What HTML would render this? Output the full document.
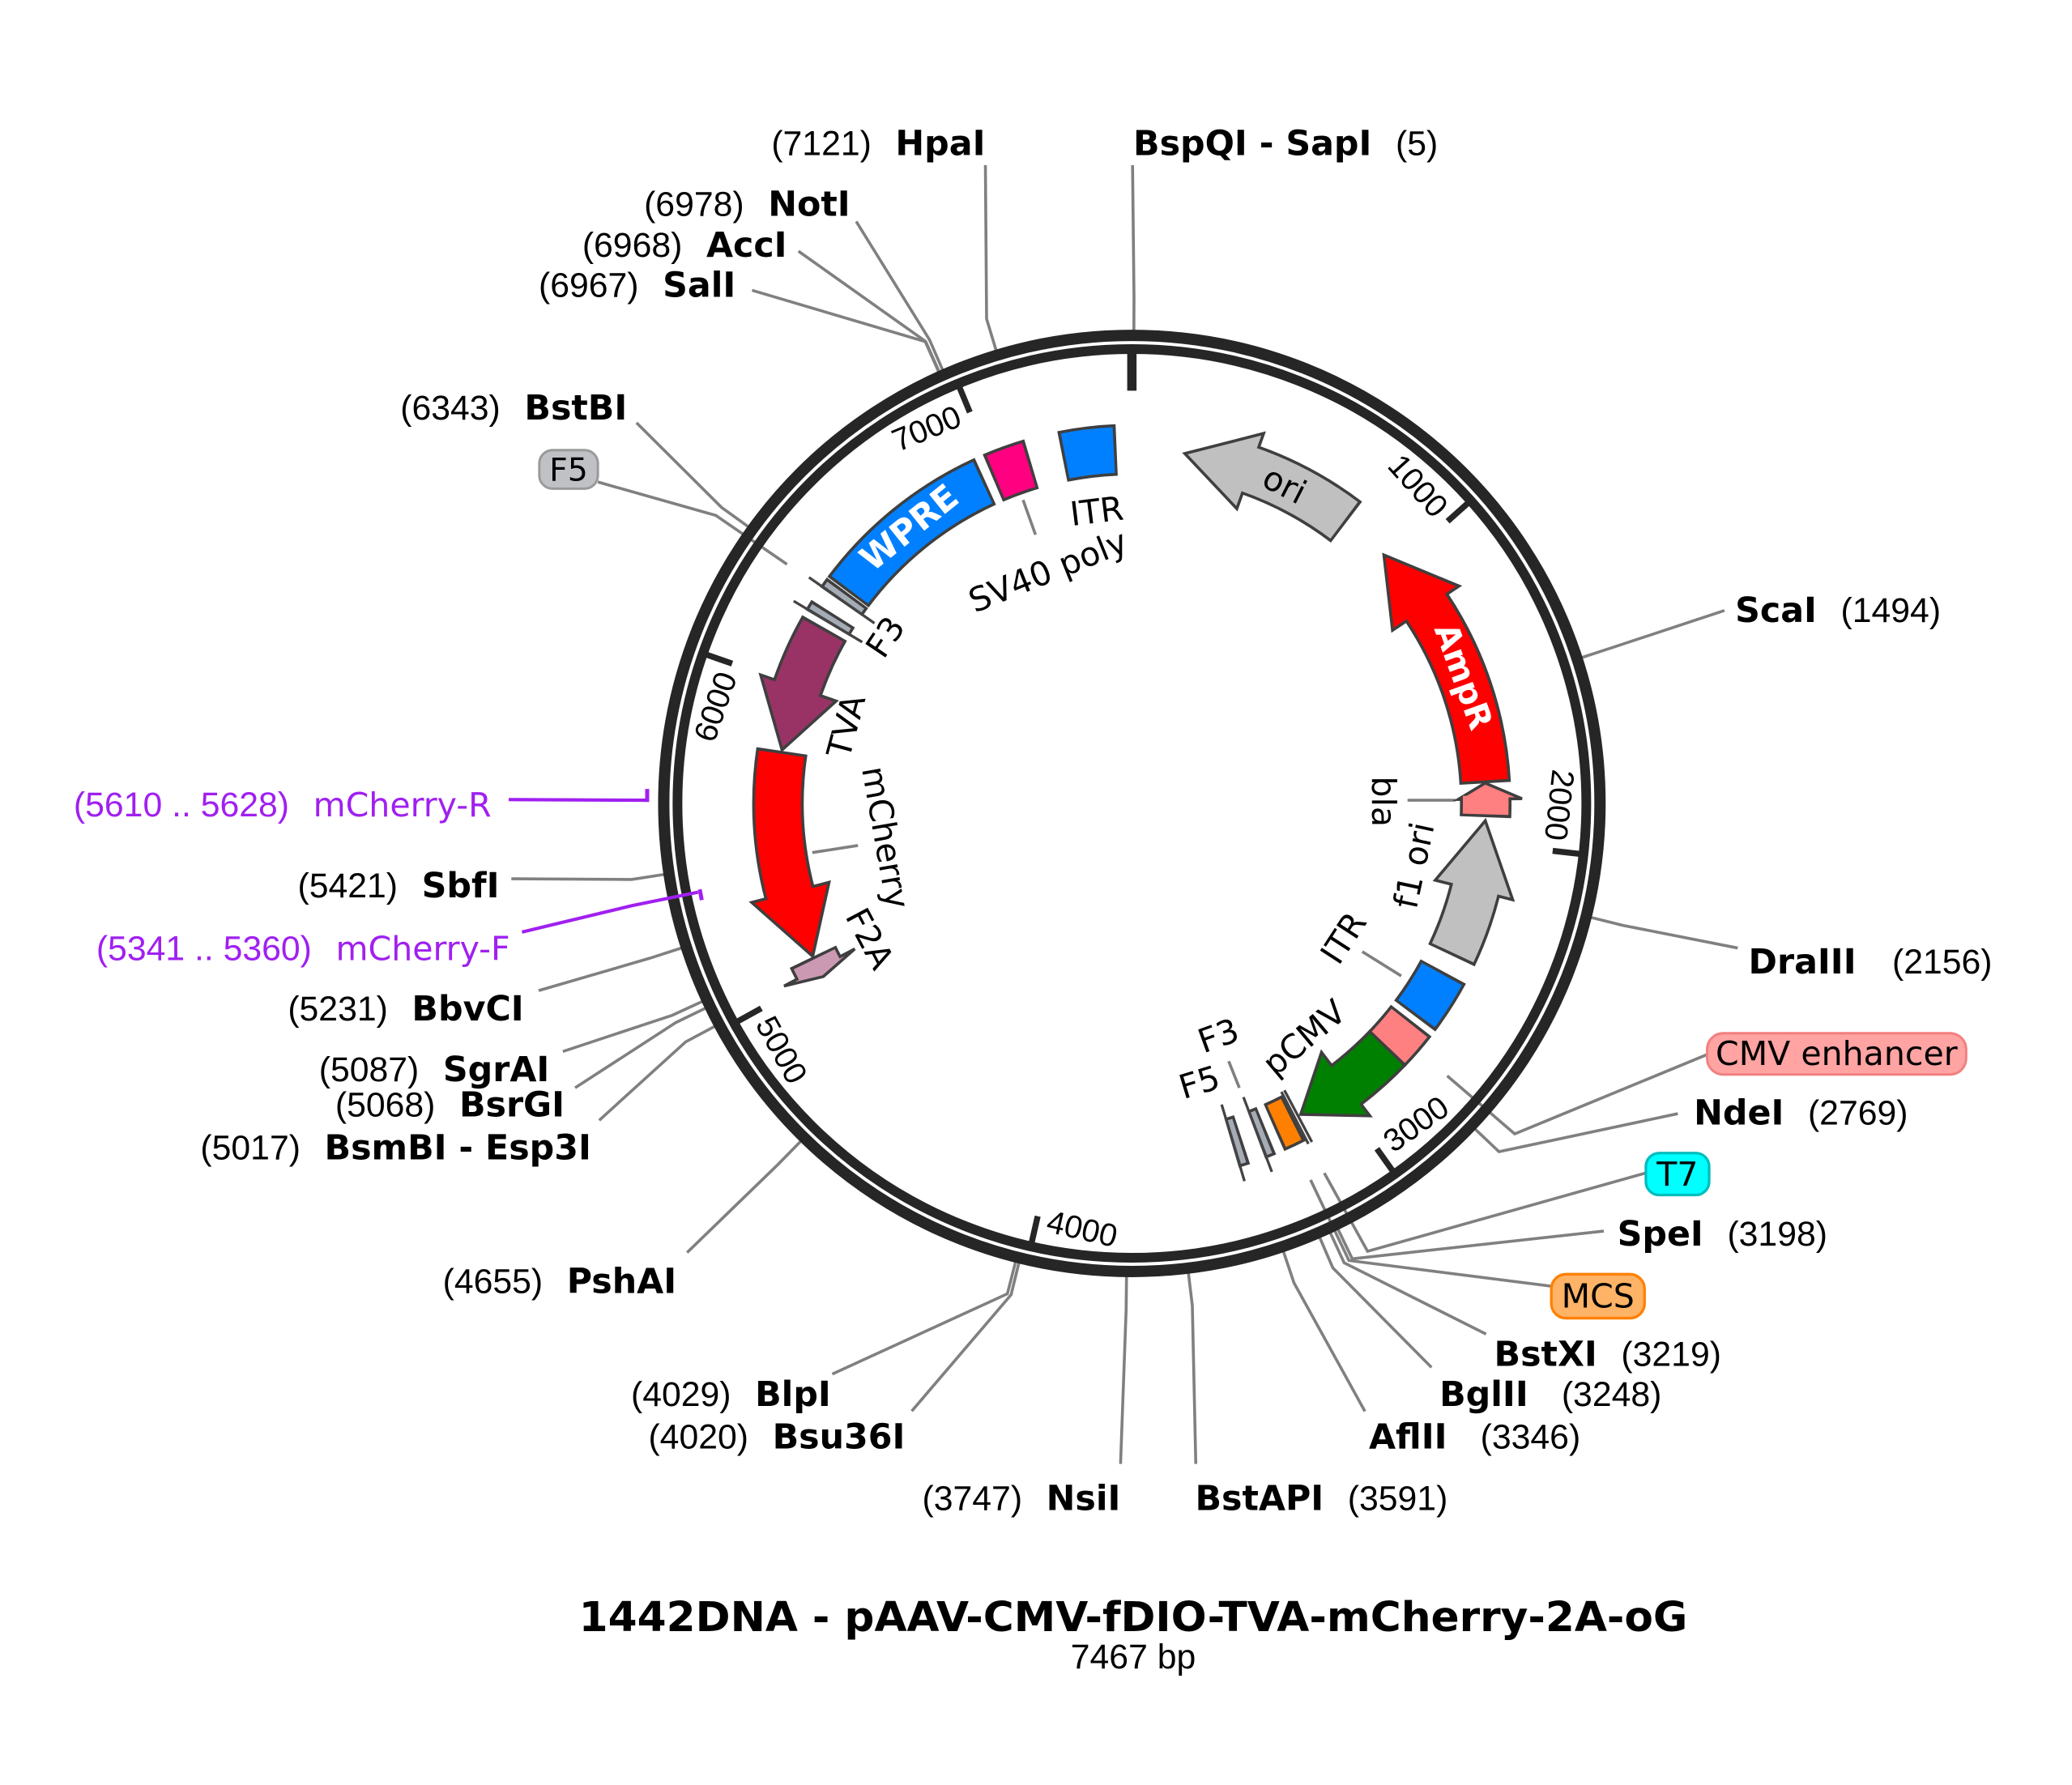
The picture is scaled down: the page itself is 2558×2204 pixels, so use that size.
<!DOCTYPE html>
<html>
<head>
<meta charset="utf-8">
<style>
html,body{margin:0;padding:0;background:#fff;}
svg{display:block;}
.ln{stroke:#808080;stroke-width:2.2;fill:none;stroke-linejoin:miter;}
.n{font-family:"Liberation Sans",Arial,sans-serif;font-size:26px;font-weight:normal;fill:#000;}
.d{font-family:"DejaVu Sans",Verdana,sans-serif;font-size:25px;font-weight:normal;fill:#000;}
.b{font-family:"DejaVu Sans",Verdana,sans-serif;font-size:26px;font-weight:bold;fill:#000;}
.t{font-family:"Liberation Sans",Arial,sans-serif;font-size:24px;fill:#000;}
.pp{fill:#A020F0;}
.dk{fill:none;stroke:#3f3f3f;stroke-width:38.7;}
.fl{fill:none;stroke-width:34.3;}
.hd{stroke:#3f3f3f;stroke-width:2.2;stroke-linejoin:miter;}
.tk{stroke:#262626;stroke-width:4.5;}
</style>
</head>
<body>
<svg xmlns="http://www.w3.org/2000/svg" width="2558" height="2204" viewBox="0 0 1556 1340.6">
<rect x="0" y="0" width="1556" height="1340.6" fill="#fff"/>

<!-- connector lines -->
<polyline class="ln" points="850.5,124 851.6,223.4 851.5,250.4"/>
<polyline class="ln" points="740,124 740.9,239.4 748.7,265.3"/>
<polyline class="ln" points="643,166.3 698,255.1 708.8,279.9"/>
<polyline class="ln" points="599.6,188.6 695.1,256.4 706.1,281.1"/>
<polyline class="ln" points="564.8,218 694.8,256.5 705.8,281.2"/>
<polyline class="ln" points="478,317.5 541.9,381.1 563.8,396.9"/>
<polyline class="ln" points="1295,458.5 1211.5,486.1 1185.8,494.5"/>
<polyline class="ln" points="1305,712 1218.8,695 1192.6,688.5"/>
<polyline class="ln" points="1260,836.4 1125.7,865 1106.1,846.4"/>
<polyline class="ln" points="1204.4,924.6 1015.5,945.4 1003.8,921.1"/>
<polyline class="ln" points="1116,1002 1009.4,948.4 998.1,923.9"/>
<polyline class="ln" points="1075,1027 1000.9,952.2 990.2,927.4"/>
<polyline class="ln" points="1025,1060 971.7,963.4 963.1,937.8"/>
<polyline class="ln" points="898,1099.5 895.4,980.7 892.2,953.9"/>
<polyline class="ln" points="841.5,1099.5 845.7,983.4 846,956.4"/>
<polyline class="ln" points="684.7,1059.8 759.3,972.4 765.7,946.2"/>
<polyline class="ln" points="625,1032 756.5,971.7 763.2,945.6"/>
<polyline class="ln" points="516,940.7 584,874.8 602.9,855.5"/>
<polyline class="ln" points="450,841.4 514.9,782.5 538.7,769.8"/>
<polyline class="ln" points="431.9,817 507.5,768 531.8,756.2"/>
<polyline class="ln" points="422.7,789.7 504.9,762.5 529.4,751.2"/>
<polyline class="ln" points="404.5,744 488.2,719.6 513.9,711.3"/>
<polyline class="ln" points="384,660 474.3,660.5 501,656.4"/>
<polyline class="ln" points="449,362 537.6,387.1 591,423.8"/>
<polyline class="ln" points="1282,792 1137.5,851.6 1086.8,808"/>
<polyline class="ln" points="1235.8,881 1027,939.8 994.5,881"/>
<polyline class="ln" points="1165,966 1013,946.7 984.2,886.2"/>
<!-- inner label lines -->
<polyline class="ln" points="768.3,375.5 777.6,401.5"/>
<polyline class="ln" points="1023,714.7 1052.3,733"/>
<polyline class="ln" points="1057,601 1093,601"/>
<polyline class="ln" points="610,640.3 644.3,635"/>
<polyline class="ln" points="922.7,797 930.7,817"/>

<!-- backbone rings -->
<circle cx="850" cy="603.4" r="351.55" fill="none" stroke="#262626" stroke-width="8.5"/>
<circle cx="850" cy="603.4" r="341.25" fill="none" stroke="#262626" stroke-width="7.3"/>

<!-- ticks -->
<rect x="846.5" y="264.4" width="7" height="29" fill="#262626"/>
<line class="tk" x1="850" y1="264.4" x2="850" y2="285.4" transform="rotate(48.21 850 603.4)"/>
<line class="tk" x1="850" y1="264.4" x2="850" y2="285.4" transform="rotate(96.43 850 603.4)"/>
<line class="tk" x1="850" y1="264.4" x2="850" y2="285.4" transform="rotate(144.64 850 603.4)"/>
<line class="tk" x1="850" y1="264.4" x2="850" y2="285.4" transform="rotate(192.85 850 603.4)"/>
<line class="tk" x1="850" y1="264.4" x2="850" y2="285.4" transform="rotate(241.06 850 603.4)"/>
<line class="tk" x1="850" y1="264.4" x2="850" y2="285.4" transform="rotate(289.28 850 603.4)"/>
<line class="tk" x1="850" y1="264.4" x2="850" y2="285.4" transform="rotate(337.5 850 603.4)"/>
<!-- tick labels -->
<text class="t" x="842" y="292.4" text-anchor="end" transform="rotate(48.21 850 603.4)">1000</text>
<text class="t" x="842" y="292.4" text-anchor="end" transform="rotate(96.43 850 603.4)">2000</text>
<text class="t" x="858" y="931.4" text-anchor="start" transform="rotate(-35.36 850 603.4)">3000</text>
<text class="t" x="858" y="931.4" text-anchor="start" transform="rotate(12.85 850 603.4)">4000</text>
<text class="t" x="858" y="931.4" text-anchor="start" transform="rotate(61.06 850 603.4)">5000</text>
<text class="t" x="842" y="292.4" text-anchor="end" transform="rotate(289.28 850 603.4)">6000</text>
<text class="t" x="842" y="292.4" text-anchor="end" transform="rotate(337.5 850 603.4)">7000</text>

<!-- block features -->
<circle class="dk" cx="850" cy="603.4" r="265.75" stroke-dasharray="41.16 4000" transform="rotate(258.663 850 603.4)"/>
<circle class="fl" cx="850" cy="603.4" r="265.75" stroke="#0080FF" stroke-dasharray="36.76 4000" transform="rotate(259.137 850 603.4)"/>
<circle class="dk" cx="850" cy="603.4" r="265.75" stroke-dasharray="30.96 4000" transform="rotate(246.863 850 603.4)"/>
<circle class="fl" cx="850" cy="603.4" r="265.75" stroke="#FF0080" stroke-dasharray="26.56 4000" transform="rotate(247.337 850 603.4)"/>
<circle class="dk" cx="850" cy="603.4" r="265.75" stroke-dasharray="133.93 4000" transform="rotate(216.663 850 603.4)"/>
<circle class="fl" cx="850" cy="603.4" r="265.75" stroke="#0080FF" stroke-dasharray="129.53 4000" transform="rotate(217.137 850 603.4)"/>
<circle class="dk" cx="850" cy="603.4" r="265.75" stroke-dasharray="39.77 4000" transform="rotate(28.363 850 603.4)"/>
<circle class="fl" cx="850" cy="603.4" r="265.75" stroke="#0080FF" stroke-dasharray="35.37 4000" transform="rotate(28.837 850 603.4)"/>
<circle class="dk" cx="850" cy="603.4" r="265.75" stroke-dasharray="28.64 4000" transform="rotate(37.863 850 603.4)"/>
<circle class="fl" cx="850" cy="603.4" r="265.75" stroke="#FF8080" stroke-dasharray="24.24 4000" transform="rotate(38.337 850 603.4)"/>
<circle class="dk" cx="850" cy="603.4" r="265.75" stroke-dasharray="16.58 4000" transform="rotate(62.763 850 603.4)"/>
<circle class="fl" cx="850" cy="603.4" r="265.75" stroke="#FF8000" stroke-dasharray="12.18 4000" transform="rotate(63.237 850 603.4)"/>
<line x1="850" y1="359.4" x2="850" y2="315.4" stroke="#444" stroke-width="2" transform="rotate(152.0 850 603.4)"/>
<line x1="850" y1="359.4" x2="850" y2="315.4" stroke="#444" stroke-width="2" transform="rotate(152.6 850 603.4)"/>

<!-- tiny FRT features -->
<circle class="dk" cx="850" cy="603.4" r="265.75" stroke-dasharray="8.23 4000" transform="rotate(214.763 850 603.4)"/>
<circle class="fl" cx="850" cy="603.4" r="265.75" stroke="#A5ACB6" stroke-dasharray="3.83 4000" transform="rotate(215.237 850 603.4)"/>
<line x1="850" y1="367.4" x2="850" y2="307.4" stroke="#444" stroke-width="2" transform="rotate(305 850 603.4)"/>
<circle class="dk" cx="850" cy="603.4" r="265.75" stroke-dasharray="8.23 4000" transform="rotate(210.663 850 603.4)"/>
<circle class="fl" cx="850" cy="603.4" r="265.75" stroke="#A5ACB6" stroke-dasharray="3.83 4000" transform="rotate(211.137 850 603.4)"/>
<line x1="850" y1="367.4" x2="850" y2="307.4" stroke="#444" stroke-width="2" transform="rotate(300.9 850 603.4)"/>
<circle class="dk" cx="850" cy="603.4" r="265.75" stroke-dasharray="8.23 4000" transform="rotate(67.663 850 603.4)"/>
<circle class="fl" cx="850" cy="603.4" r="265.75" stroke="#A5ACB6" stroke-dasharray="3.83 4000" transform="rotate(68.137 850 603.4)"/>
<line x1="850" y1="367.4" x2="850" y2="307.4" stroke="#444" stroke-width="2" transform="rotate(159.2 850 603.4)"/>
<circle class="dk" cx="850" cy="603.4" r="265.75" stroke-dasharray="8.23 4000" transform="rotate(71.863 850 603.4)"/>
<circle class="fl" cx="850" cy="603.4" r="265.75" stroke="#A5ACB6" stroke-dasharray="3.83 4000" transform="rotate(72.337 850 603.4)"/>
<line x1="850" y1="367.4" x2="850" y2="307.4" stroke="#444" stroke-width="2" transform="rotate(163.4 850 603.4)"/>

<!-- arrow features -->
<!-- ori -->
<circle class="dk" cx="850" cy="603.4" r="265.75" stroke-dasharray="82.27 4000" transform="rotate(-70.4 850 603.4)"/>
<polygon class="hd" fill="#C0C0C0" points="850,308.4 850,368.4 799.3,342.5" transform="rotate(19.6 850 603.4)"/>
<circle class="fl" cx="850" cy="603.4" r="265.75" stroke="#C0C0C0" stroke-dasharray="82.85 4000" transform="rotate(-71.0 850 603.4)"/>
<!-- AmpR -->
<circle class="dk" cx="850" cy="603.4" r="265.75" stroke-dasharray="140.71 4000" transform="rotate(-33.6 850 603.4)"/>
<polygon class="hd" fill="#FF0000" points="850,308.4 850,368.4 799.3,342.5" transform="rotate(56.4 850 603.4)"/>
<circle class="fl" cx="850" cy="603.4" r="265.75" stroke="#FF0000" stroke-dasharray="141.29 4000" transform="rotate(-34.2 850 603.4)"/>
<!-- bla -->
<circle class="dk" cx="850" cy="603.4" r="265.75" stroke-dasharray="13.62 4000" transform="rotate(-0.7 850 603.4)"/>
<polygon class="hd" fill="#FF8080" points="850,310.4 850,358.4 837.95,337.9" transform="rotate(89.3 850 603.4)"/>
<circle class="fl" cx="850" cy="603.4" r="265.75" stroke="#FF8080" stroke-dasharray="14.21 4000" transform="rotate(-1.3 850 603.4)"/>
<!-- f1 ori -->
<circle class="dk" cx="850" cy="603.4" r="265.75" stroke-dasharray="52.12 4000" transform="rotate(14.2 850 603.4)"/>
<polygon class="hd" fill="#C0C0C0" points="850,308.4 850,368.4 797.5,342.9" transform="rotate(104.2 850 603.4)"/>
<circle class="fl" cx="850" cy="603.4" r="265.75" stroke="#C0C0C0" stroke-dasharray="52.70 4000" transform="rotate(13.6 850 603.4)"/>
<!-- pCMV -->
<circle class="dk" cx="850" cy="603.4" r="265.75" stroke-dasharray="42.38 4000" transform="rotate(43.563 850 603.4)"/>
<polygon class="hd" fill="#008000" points="850,308.4 850,368.4 890.7,340.8" transform="rotate(142.7 850 603.4)"/>
<circle class="fl" cx="850" cy="603.4" r="265.75" stroke="#008000" stroke-dasharray="42.96 4000" transform="rotate(44.037 850 603.4)"/>
<!-- TVA -->
<circle class="dk" cx="850" cy="603.4" r="265.75" stroke-dasharray="49.34 4000" transform="rotate(199.1 850 603.4)"/>
<polygon class="hd" fill="#993366" points="850,308.4 850,368.4 802.0,342.0" transform="rotate(289.1 850 603.4)"/>
<circle class="fl" cx="850" cy="603.4" r="265.75" stroke="#993366" stroke-dasharray="49.92 4000" transform="rotate(198.5 850 603.4)"/>
<!-- mCherry -->
<circle class="dk" cx="850" cy="603.4" r="265.75" stroke-dasharray="107.31 4000" transform="rotate(165.4 850 603.4)"/>
<polygon class="hd" fill="#FF0000" points="850,308.4 850,368.4 799.3,342.5" transform="rotate(255.4 850 603.4)"/>
<circle class="fl" cx="850" cy="603.4" r="265.75" stroke="#FF0000" stroke-dasharray="107.90 4000" transform="rotate(164.8 850 603.4)"/>
<!-- F2A -->
<circle class="dk" cx="850" cy="603.4" r="265.75" stroke-dasharray="9.45 4000" transform="rotate(152.3 850 603.4)"/>
<polygon class="hd" fill="#CC99B3" points="850,308.4 850,368.4 842.58,337.75" transform="rotate(242.3 850 603.4)"/>
<circle class="fl" cx="850" cy="603.4" r="265.75" stroke="#CC99B3" stroke-dasharray="8.64 4000" transform="rotate(152.0 850 603.4)"/>

<!-- labels inside features -->
<text class="d" text-anchor="middle" dominant-baseline="central" transform="translate(964.6,364.2) rotate(27)">ori</text>
<text class="b" style="fill:#fff;font-size:25px" text-anchor="middle" dominant-baseline="central" transform="translate(1099,508) rotate(70)">AmpR</text>
<text class="b" style="fill:#fff" text-anchor="middle" dominant-baseline="central" transform="translate(683,396.6) rotate(-38.9)">WPRE</text>

<!-- inner labels -->
<text class="d" text-anchor="middle" dominant-baseline="central" transform="translate(823.6,384) rotate(-7)">ITR</text>
<text class="d" text-anchor="middle" dominant-baseline="central" transform="translate(787,429) rotate(-22)">SV40 poly</text>
<text class="d" text-anchor="middle" dominant-baseline="central" transform="translate(665,478.5) rotate(-56)">F3</text>
<text class="d" text-anchor="middle" dominant-baseline="central" transform="translate(635.6,545.4) rotate(-75)">TVA</text>
<text class="d" text-anchor="middle" dominant-baseline="central" transform="translate(665,629) rotate(80)">mCherry</text>
<text class="d" text-anchor="middle" dominant-baseline="central" transform="translate(653,705) rotate(62)">F2A</text>
<text class="d" text-anchor="middle" dominant-baseline="central" transform="translate(1039,602) rotate(90)">bla</text>
<text class="d" text-anchor="middle" dominant-baseline="central" transform="translate(1062,650) rotate(-78)">f1 ori</text>
<text class="d" text-anchor="middle" dominant-baseline="central" transform="translate(1009,704.5) rotate(-57)">ITR</text>
<text class="d" text-anchor="middle" dominant-baseline="central" transform="translate(979.5,779.5) rotate(-40)">pCMV</text>
<text class="d" text-anchor="middle" dominant-baseline="central" transform="translate(915,778) rotate(-20)">F3</text>
<text class="d" text-anchor="middle" dominant-baseline="central" transform="translate(900.7,813) rotate(-17)">F5</text>

<!-- primers -->
<polyline points="382,600.5 486,601" fill="none" stroke="#A020F0" stroke-width="2.5"/>
<line x1="486" y1="592.5" x2="486" y2="602.3" stroke="#A020F0" stroke-width="3"/>
<polyline points="392,700 474.5,680.2 524.2,670.1" fill="none" stroke="#A020F0" stroke-width="2.5"/>
<line x1="525.5" y1="668" x2="527" y2="676" stroke="#A020F0" stroke-width="3"/>
<text class="n pp" x="369" y="613" text-anchor="end">(5610 .. 5628)<tspan class="d pp" dx="18">mCherry-R</tspan></text>
<text class="n pp" x="383" y="721" text-anchor="end">(5341 .. 5360)<tspan class="d pp" dx="18">mCherry-F</tspan></text>

<!-- right-side enzyme labels -->
<text class="b" x="851" y="116.6">BspQI - SapI<tspan class="n" dx="18">(5)</tspan></text>
<text class="b" x="1303" y="467">ScaI<tspan class="n" dx="18">(1494)</tspan></text>
<text class="b" x="1313" y="731">DraIII<tspan class="n" dx="27">(2156)</tspan></text>
<text class="b" x="1272" y="844.5">NdeI<tspan class="n" dx="18">(2769)</tspan></text>
<text class="b" x="1214.5" y="935.5">SpeI<tspan class="n" dx="18">(3198)</tspan></text>
<text class="b" x="1122" y="1026">BstXI<tspan class="n" dx="18">(3219)</tspan></text>
<text class="b" x="1081" y="1056">BglII<tspan class="n" dx="25">(3248)</tspan></text>
<text class="b" x="1028" y="1088">AflII<tspan class="n" dx="25">(3346)</tspan></text>
<text class="b" x="897.5" y="1134">BstAPI<tspan class="n" dx="18">(3591)</tspan></text>

<!-- left-side enzyme labels -->
<text class="n" x="740" y="116.6" text-anchor="end">(7121)<tspan class="b" dx="18">HpaI</tspan></text>
<text class="n" x="638.5" y="162.2" text-anchor="end">(6978)<tspan class="b" dx="18">NotI</tspan></text>
<text class="n" x="591" y="192.7" text-anchor="end">(6968)<tspan class="b" dx="18">AccI</tspan></text>
<text class="n" x="552.5" y="223" text-anchor="end">(6967)<tspan class="b" dx="18">SalI</tspan></text>
<text class="n" x="471" y="315" text-anchor="end">(6343)<tspan class="b" dx="18">BstBI</tspan></text>
<text class="n" x="375" y="674" text-anchor="end">(5421)<tspan class="b" dx="18">SbfI</tspan></text>
<text class="n" x="393.4" y="766.4" text-anchor="end">(5231)<tspan class="b" dx="18">BbvCI</tspan></text>
<text class="n" x="412.6" y="812" text-anchor="end">(5087)<tspan class="b" dx="18">SgrAI</tspan></text>
<text class="n" x="424" y="838.4" text-anchor="end">(5068)<tspan class="b" dx="18">BsrGI</tspan></text>
<text class="n" x="444" y="870.8" text-anchor="end">(5017)<tspan class="b" dx="18">BsmBI - Esp3I</tspan></text>
<text class="n" x="508" y="971" text-anchor="end">(4655)<tspan class="b" dx="18">PshAI</tspan></text>
<text class="n" x="624" y="1056" text-anchor="end">(4029)<tspan class="b" dx="18">BlpI</tspan></text>
<text class="n" x="679.7" y="1088" text-anchor="end">(4020)<tspan class="b" dx="18">Bsu36I</tspan></text>
<text class="n" x="841.5" y="1134" text-anchor="end">(3747)<tspan class="b" dx="18">NsiI</tspan></text>

<!-- feature label boxes -->
<rect x="405" y="338" width="44" height="29" rx="10" ry="10" fill="#BFC1C5" stroke="#9A9A9A" stroke-width="1.8"/>
<text class="d" style="font-size:24px" x="427" y="353" text-anchor="middle" dominant-baseline="central">F5</text>
<rect x="1282" y="776" width="194.5" height="31" rx="12" ry="12" fill="#FFA3A3" stroke="#F27F7F" stroke-width="1.8"/>
<text class="d" x="1379.2" y="791.5" text-anchor="middle" dominant-baseline="central">CMV enhancer</text>
<rect x="1236" y="866" width="47.5" height="31.5" rx="10" ry="10" fill="#00FFFF" stroke="#00BDBD" stroke-width="2"/>
<text class="d" x="1259.7" y="882" text-anchor="middle" dominant-baseline="central">T7</text>
<rect x="1165" y="957" width="70" height="33" rx="11" ry="11" fill="#FFB366" stroke="#FF8000" stroke-width="2"/>
<text class="d" x="1200" y="973.5" text-anchor="middle" dominant-baseline="central">MCS</text>

<!-- title -->
<text class="b" x="851" y="1225" text-anchor="middle" style="font-size:31px" textLength="832.6" lengthAdjust="spacingAndGlyphs">1442DNA - pAAV-CMV-fDIO-TVA-mCherry-2A-oG</text>
<text class="n" x="851" y="1253" text-anchor="middle">7467 bp</text>
</svg>
</body>
</html>
